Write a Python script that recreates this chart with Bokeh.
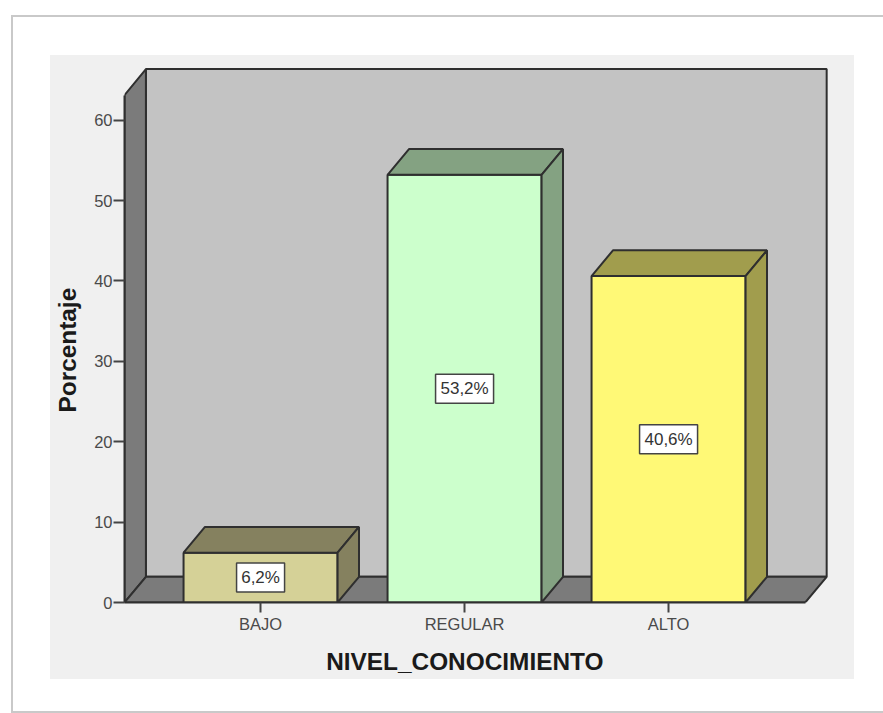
from bokeh.embed import file_html
from bokeh.layouts import column
from bokeh.resources import INLINE
from bokeh.core.properties import value
from bokeh.models import FixedTicker, Range1d, Title
from bokeh.plotting import figure

categories = ["BAJO", "REGULAR", "ALTO"]
percentages = [6.2, 53.2, 40.6]
labels = ["6,2%", "53,2%", "40,6%"]
y_ticks = [0, 10, 20, 30, 40, 50, 60]
front_colors = ["#d5d197", "#ccffcc", "#fff976"]
shade_colors = ["#85815f", "#84a282", "#a19d4d"]

positions = list(range(len(categories)))
BAR_WIDTH = 0.755
DEPTH_X = 0.105
DEPTH_Y = 3.2
AXIS_TOP = 63.1
WALL_TOP = 66.35
X_MIN, WALL_RIGHT = -0.667, 2.775
EDGE = "#2f2f2f"

# Frame scale: 204 px per category step, 8.04 px per percentage point
PX_X, PX_Y = 204.0, 8.04
W, H = 814, 634
LEFT, TOP, RIGHT, BOTTOM = 84, 8, 23, 87
X_MAX = X_MIN + (W - LEFT - RIGHT) / PX_X
Y_MAX = (H - TOP - BOTTOM) / PX_Y

p = figure(
    width=W, height=H, output_backend="svg", toolbar_location=None,
    x_range=Range1d(X_MIN, X_MAX), y_range=Range1d(0, Y_MAX),
    min_border_left=LEFT, min_border_right=RIGHT, min_border_top=TOP, min_border_bottom=BOTTOM,
    border_fill_color=None, background_fill_color=None, outline_line_color=None,
    margin=(38, 0, 0, 27),
)
p.grid.visible = False

# Back wall, side wall and floor of the 3D box
floor_right = WALL_RIGHT - DEPTH_X
wall_x = X_MIN + DEPTH_X
p.patch([wall_x, WALL_RIGHT, WALL_RIGHT, wall_x], [DEPTH_Y, DEPTH_Y, WALL_TOP, WALL_TOP],
        fill_color="#c3c3c3", line_color=EDGE, line_width=2)
p.patch([X_MIN, wall_x, wall_x, X_MIN], [0, DEPTH_Y, WALL_TOP, AXIS_TOP],
        fill_color="#7b7b7b", line_color=EDGE, line_width=2)
p.patch([X_MIN, floor_right, WALL_RIGHT, wall_x], [0, 0, DEPTH_Y, DEPTH_Y],
        fill_color="#7b7b7b", line_color=EDGE, line_width=2)

# Bars: front face, top face and right face
for x, v, front, shade in zip(positions, percentages, front_colors, shade_colors):
    x0, x1 = x - BAR_WIDTH / 2, x + BAR_WIDTH / 2
    p.patch([x0, x1, x1, x0], [0, 0, v, v],
            fill_color=front, line_color=EDGE, line_width=2)
    p.patch([x0, x1, x1 + DEPTH_X, x0 + DEPTH_X], [v, v, v + DEPTH_Y, v + DEPTH_Y],
            fill_color=shade, line_color=EDGE, line_width=2)
    p.patch([x1, x1 + DEPTH_X, x1 + DEPTH_X, x1], [0, DEPTH_Y, v + DEPTH_Y, v],
            fill_color=shade, line_color=EDGE, line_width=2)

# Value labels in white boxes at mid-height
mids = [v / 2 for v in percentages]
p.rect(positions, mids, width=[48, 58, 58], height=29,
       width_units="screen", height_units="screen",
       fill_color="white", line_color="#444444", line_width=1.5)
p.text(positions, mids, text=labels, text_align="center", text_baseline="middle",
       text_font=value("Liberation Sans"), text_font_size="17px", text_color="#333333")

# Axes
xa = p.xaxis[0]
xa.ticker = FixedTicker(ticks=positions)
xa.major_label_overrides = dict(zip(positions, categories))
xa.bounds = (X_MIN, floor_right)
xa.major_label_standoff = 2
xa.major_tick_out = 10

ya = p.yaxis[0]
ya.ticker = FixedTicker(ticks=y_ticks)
ya.bounds = (0, AXIS_TOP)
ya.major_label_standoff = 1
ya.major_tick_out = 11

for axis in (xa, ya):
    axis.major_tick_in = 0
    axis.minor_tick_line_color = None
    axis.axis_line_color = EDGE
    axis.axis_line_width = 2
    axis.major_tick_line_color = "#444444"
    axis.major_tick_line_width = 2
    axis.major_label_text_font = "Liberation Sans"
    axis.major_label_text_font_size = "16.5px"
    axis.major_label_text_color = "#4a4a4a"

# Axis titles, offset so they sit under the floor rather than the full frame
p.add_layout(Title(text="NIVEL_CONOCIMIENTO", align="right", offset=228, standoff=20,
                   text_font="Liberation Sans", text_font_style="bold",
                   text_font_size="24.4px", text_color="#1a1a1a"), "below")
p.add_layout(Title(text="Porcentaje", align="left", offset=190, standoff=21,
                   text_font="Liberation Sans", text_font_style="bold",
                   text_font_size="24.4px", text_color="#1a1a1a"), "left")

# Sheet holding the chart: thin grey rule on three sides, light panel painted behind the figure
sheet = column(p, width=872, height=698, margin=(15, 0, 0, 11),
               styles={"border-top": "2px solid #c9c9c9", "border-left": "2px solid #c9c9c9",
                       "border-bottom": "2px solid #c9c9c9", "box-sizing": "border-box",
                       "background-color": "white",
                       "background-image": "linear-gradient(#f0f0f0, #f0f0f0)",
                       "background-repeat": "no-repeat",
                       "background-position": "37px 38px",
                       "background-size": "804px 624px"})

open("out.html", "w").write(file_html(sheet, INLINE))
